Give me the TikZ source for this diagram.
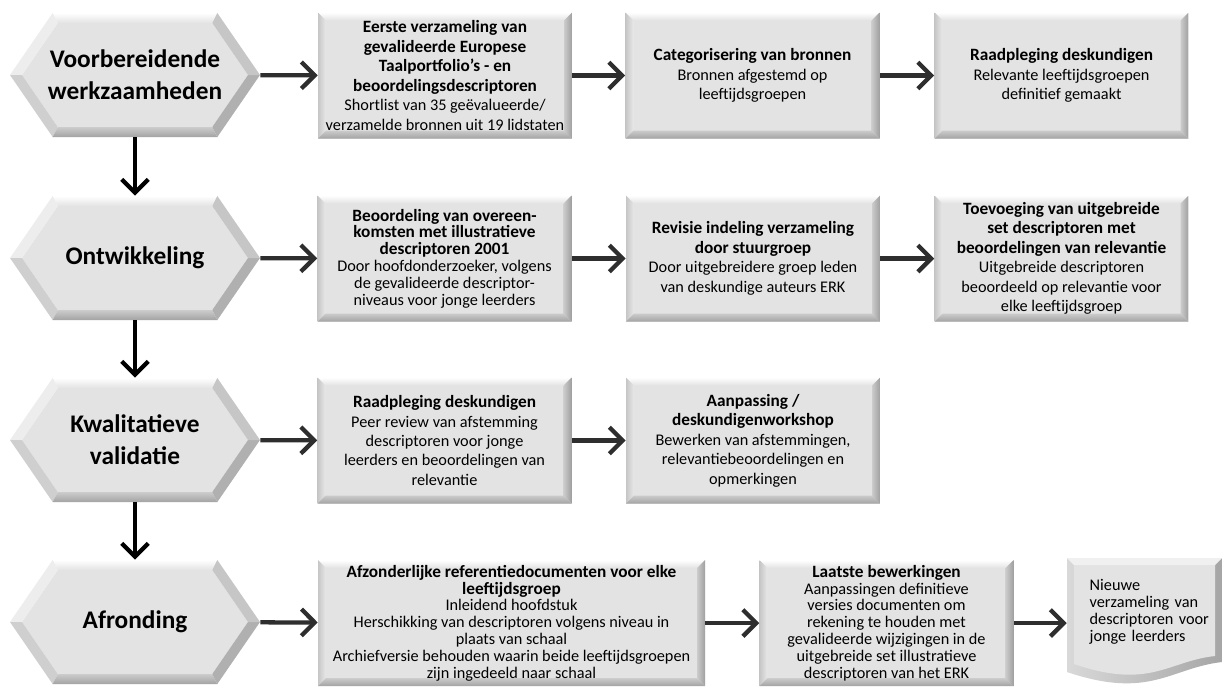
\documentclass[tikz,border=0pt]{standalone}
\usepackage{fontspec}
\setmainfont{Carlito}
\usetikzlibrary{arrows.meta,positioning}

\definecolor{vlak}{HTML}{E3E3E3}
\definecolor{pijlkleur}{HTML}{2E2E2E}
\newcommand{\kop}[1]{{\fontsize{12.95}{14.6}\selectfont\bfseries #1}}

% afgeschuinde rand van een rechthoek
\newcommand{\bevelrand}{%
  \coordinate (bnw) at (path picture bounding box.north west);
  \coordinate (bne) at (path picture bounding box.north east);
  \coordinate (bsw) at (path picture bounding box.south west);
  \coordinate (bse) at (path picture bounding box.south east);
  \shade[top color=white, bottom color=gray!22] (bnw) -- (bne) -- ([shift={(-6pt,-6pt)}]bne) -- ([shift={(6pt,-6pt)}]bnw) -- cycle;
  \shade[left color=gray!45, right color=gray!18] (bnw) -- ([shift={(6pt,-6pt)}]bnw) -- ([shift={(6pt,6pt)}]bsw) -- (bsw) -- cycle;
  \shade[left color=gray!40, right color=gray!75] (bne) -- ([shift={(-6pt,-6pt)}]bne) -- ([shift={(-6pt,6pt)}]bse) -- (bse) -- cycle;
  \shade[top color=gray!40, bottom color=gray!72] (bsw) -- ([shift={(6pt,6pt)}]bsw) -- ([shift={(-6pt,6pt)}]bse) -- (bse) -- cycle;
}

% zeshoek binnen de rechthoek van de node
\newcommand{\zeshoek}{%
  \coordinate (zw) at (path picture bounding box.west);
  \coordinate (ze) at (path picture bounding box.east);
  \coordinate (znw) at ([xshift=32pt]path picture bounding box.north west);
  \coordinate (zne) at ([xshift=-32pt]path picture bounding box.north east);
  \coordinate (zsw) at ([xshift=32pt]path picture bounding box.south west);
  \coordinate (zse) at ([xshift=-32pt]path picture bounding box.south east);
  \coordinate (iw) at ([xshift=9pt]zw);
  \coordinate (ie) at ([xshift=-9pt]ze);
  \coordinate (inw) at ([shift={(3.8pt,-7.5pt)}]znw);
  \coordinate (ine) at ([shift={(-3.8pt,-7.5pt)}]zne);
  \coordinate (isw) at ([shift={(3.8pt,7.5pt)}]zsw);
  \coordinate (ise) at ([shift={(-3.8pt,7.5pt)}]zse);
  \fill[vlak] (iw) -- (inw) -- (ine) -- (ie) -- (ise) -- (isw) -- cycle;
  \shade[top color=white, bottom color=gray!22] (znw) -- (zne) -- (ine) -- (inw) -- cycle;
  \fill[gray!14] (zw) -- (znw) -- (inw) -- (iw) -- cycle;
  \fill[gray!38] (zw) -- (zsw) -- (isw) -- (iw) -- cycle;
  \shade[top color=gray!40, bottom color=gray!72] (zsw) -- (zse) -- (ise) -- (isw) -- cycle;
  \fill[gray!62] (ze) -- (zse) -- (ise) -- (ie) -- cycle;
  \fill[gray!45] (ze) -- (zne) -- (ine) -- (ie) -- cycle;
}

\begin{document}
\begin{tikzpicture}[x=0.75pt,y=-0.75pt,
  fase/.style={rectangle, minimum width=187.5pt, minimum height=93pt, inner sep=0pt,
    align=center, font=\bfseries\fontsize{19}{24}\selectfont, path picture={\zeshoek}},
  stap/.style={rectangle, fill=vlak, minimum width=190.5pt, minimum height=94.5pt,
    inner sep=2pt, align=center, font=\fontsize{12.2}{14.6}\selectfont, path picture={\bevelrand}},
  krap/.style={font=\fontsize{12.2}{12.6}\selectfont},
  breed/.style={minimum width=290.25pt},
  pijl/.style={draw=pijlkleur, line width=3.2pt, -{Straight Barb[length=10pt,width=20pt]}},
  pijlneer/.style={pijl, draw=black}]
\useasboundingbox[fill=white] (0,0) rectangle (1222,687);

% fasen
\node[fase] (voorb) at (135,75) {Voorbereidende\\werkzaamheden};
\node[fase] (ontw) at (135,258) {Ontwikkeling};
\node[fase] (kwal) at (135,440) {Kwalitatieve\\validatie};
\node[fase] (afr) at (135,622) {Afronding};

% stappen
\node[stap] (eerste) at (445,75.5) {\kop{Eerste verzameling van}\\\kop{gevalideerde Europese}\\\kop{Taalportfolio’s - en}\\\kop{beoordelingsdescriptoren}\\Shortlist van 35 geëvalueerde/\\verzamelde bronnen uit 19 lidstaten};
\node[stap] (categ) at (752.5,75.5) {\kop{Categorisering van bronnen}\\Bronnen afgestemd op\\leeftijdsgroepen};
\node[stap] (raad1) at (1061.5,75.5) {\kop{Raadpleging deskundigen}\\Relevante leeftijdsgroepen\\definitief gemaakt};

\node[stap,krap] (beoord) at (444.5,258.5) {\kop{Beoordeling van overeen-}\\\kop{komsten met illustratieve}\\\kop{descriptoren 2001}\\Door hoofdonderzoeker, volgens\\de gevalideerde descriptor-\\niveaus voor jonge leerders};
\node[stap] (revisie) at (753,258.5) {\kop{Revisie indeling verzameling}\\\kop{door stuurgroep}\\Door uitgebreidere groep leden\\van deskundige auteurs ERK};
\node[stap] (toev) at (1061.5,258.5) {\kop{Toevoeging van uitgebreide}\\\kop{set descriptoren met}\\\kop{beoordelingen van relevantie}\\Uitgebreide descriptoren\\beoordeeld op relevantie voor\\elke leeftijdsgroep};

\node[stap] (raad2) at (444.5,440.5) {\kop{Raadpleging deskundigen}\\Peer review van afstemming\\descriptoren voor jonge\\leerders en beoordelingen van\\relevantie};
\node[stap] (aanp) at (753,440.5) {\kop{Aanpassing /}\\\kop{deskundigenworkshop}\\Bewerken van afstemmingen,\\relevantiebeoordelingen en\\opmerkingen};

\node[stap,krap,breed] (afz) at (511.5,623) {\kop{Afzonderlijke referentiedocumenten voor elke}\\\kop{leeftijdsgroep}\\Inleidend hoofdstuk\\Herschikking van descriptoren volgens niveau in\\plaats van schaal\\Archiefversie behouden waarin beide leeftijdsgroepen\\zijn ingedeeld naar schaal};
\node[stap,krap] (laatste) at (886.5,623) {\kop{Laatste bewerkingen}\\Aanpassingen definitieve\\versies documenten om\\rekening te houden met\\gevalideerde wijzigingen in de\\uitgebreide set illustratieve\\descriptoren van het ERK};

% document
\shade[left color=gray!30, right color=gray!70] (1067,558) -- (1222,558) -- (1222,662) .. controls (1170,668) and (1150,700) .. (1067,672) -- cycle;
\fill[gray!12] (1067,558) -- (1222,558) -- (1215,565) -- (1074,565) -- cycle;
\fill[vlak] (1074,565) -- (1215,565) -- (1215,656) .. controls (1168,661) and (1150,690) .. (1074,664) -- cycle;
\node[minimum height=97.5pt, inner xsep=17pt, text width=92pt, align=left,
  font=\fontsize{12.2}{12.8}\selectfont] (nieuw) at (1151,612) {Nieuwe\\verzameling van\\descriptoren voor\\jonge leerders};

% pijlen
\draw[pijl] (voorb) -- (eerste);
\draw[pijl] (eerste) -- (categ);
\draw[pijl] (categ) -- (raad1);
\draw[pijl] (ontw) -- (beoord);
\draw[pijl] (beoord) -- (revisie);
\draw[pijl] (revisie) -- (toev);
\draw[pijl] (kwal) -- (raad2);
\draw[pijl] (raad2) -- (aanp);
\draw[pijl] (afr) -- (afz);
\draw[pijl] (afz) -- (laatste);
\draw[pijl] (laatste) -- (laatste -| nieuw.west);
\draw[pijlneer] (voorb) -- (ontw);
\draw[pijlneer] (ontw) -- (kwal);
\draw[pijlneer] (kwal) -- (afr);
\end{tikzpicture}
\end{document}
